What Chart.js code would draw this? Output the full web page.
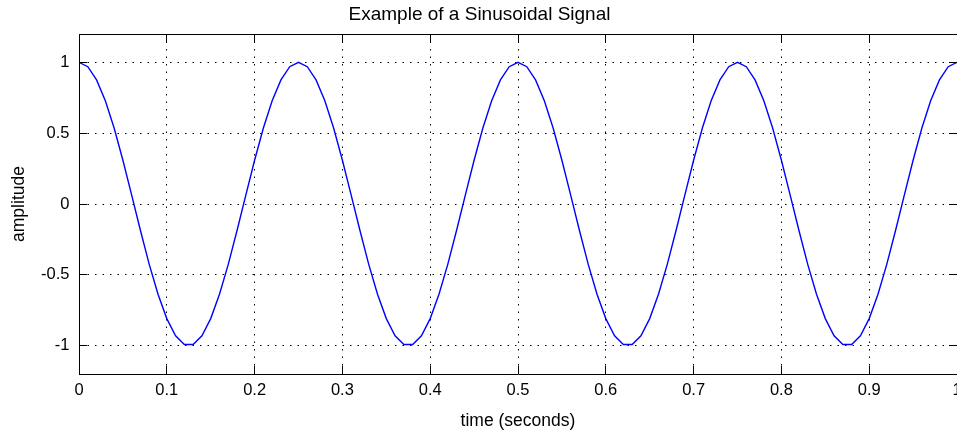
<!DOCTYPE html>
<html>
<head>
<meta charset="utf-8">
<script src="https://cdn.jsdelivr.net/npm/chart.js@4"></script>
<style>
  html, body { margin: 0; padding: 0; background: #fff; }
  #chart { display: block; }
</style>
</head>
<body>
<canvas id="chart" width="957" height="434"></canvas>
<script>
/*************************************************
 * DATA
 *************************************************/
const TITLE = "Example of a Sinusoidal Signal";
const X_LABEL = "time (seconds)";
const Y_LABEL = "amplitude";

// sample times (s)
const timeValues = [
  0.00, 0.01, 0.02, 0.03, 0.04, 0.05, 0.06, 0.07, 0.08, 0.09,
  0.10, 0.11, 0.12, 0.13, 0.14, 0.15, 0.16, 0.17, 0.18, 0.19,
  0.20, 0.21, 0.22, 0.23, 0.24, 0.25, 0.26, 0.27, 0.28, 0.29,
  0.30, 0.31, 0.32, 0.33, 0.34, 0.35, 0.36, 0.37, 0.38, 0.39,
  0.40, 0.41, 0.42, 0.43, 0.44, 0.45, 0.46, 0.47, 0.48, 0.49,
  0.50, 0.51, 0.52, 0.53, 0.54, 0.55, 0.56, 0.57, 0.58, 0.59,
  0.60, 0.61, 0.62, 0.63, 0.64, 0.65, 0.66, 0.67, 0.68, 0.69,
  0.70, 0.71, 0.72, 0.73, 0.74, 0.75, 0.76, 0.77, 0.78, 0.79,
  0.80, 0.81, 0.82, 0.83, 0.84, 0.85, 0.86, 0.87, 0.88, 0.89,
  0.90, 0.91, 0.92, 0.93, 0.94, 0.95, 0.96, 0.97, 0.98, 0.99,
  1.00
];

// amplitude
const amplitudeValues = [
  1.000, 0.969, 0.876, 0.729, 0.536, 0.309, 0.063, -0.187, -0.426, -0.637,
  -0.809, -0.930, -0.992, -0.992, -0.930, -0.809, -0.637, -0.426, -0.187, 0.063,
  0.309, 0.536, 0.729, 0.876, 0.969,
  1.000, 0.969, 0.876, 0.729, 0.536, 0.309, 0.063, -0.187, -0.426, -0.637,
  -0.809, -0.930, -0.992, -0.992, -0.930, -0.809, -0.637, -0.426, -0.187, 0.063,
  0.309, 0.536, 0.729, 0.876, 0.969,
  1.000, 0.969, 0.876, 0.729, 0.536, 0.309, 0.063, -0.187, -0.426, -0.637,
  -0.809, -0.930, -0.992, -0.992, -0.930, -0.809, -0.637, -0.426, -0.187, 0.063,
  0.309, 0.536, 0.729, 0.876, 0.969,
  1.000, 0.969, 0.876, 0.729, 0.536, 0.309, 0.063, -0.187, -0.426, -0.637,
  -0.809, -0.930, -0.992, -0.992, -0.930, -0.809, -0.637, -0.426, -0.187, 0.063,
  0.309, 0.536, 0.729, 0.876, 0.969,
  1.000
];

const xTicks = [0, 0.1, 0.2, 0.3, 0.4, 0.5, 0.6, 0.7, 0.8, 0.9, 1];
const xTickLabels = ["0", "0.1", "0.2", "0.3", "0.4", "0.5", "0.6", "0.7", "0.8", "0.9", "1"];
const yTicks = [-1, -0.5, 0, 0.5, 1];
const yTickLabels = ["-1", "-0.5", "0", "0.5", "1"];

/*************************************************
 * STYLE
 *************************************************/
const FONT = "'Liberation Sans', Arial, Helvetica, sans-serif";
const INK = "#000";
const TICK_LEN = 8;

/*************************************************
 * PLUGIN: box outline + inward ticks on all four sides
 *************************************************/
const boxTicks = {
  id: "boxTicks",
  afterDraw(chart) {
    const { ctx, chartArea: a, scales: { x, y } } = chart;
    const crisp = v => Math.round(v - 0.5) + 0.5;
    ctx.save();
    ctx.strokeStyle = INK;
    ctx.lineWidth = 1;
    ctx.setLineDash([]);
    ctx.beginPath();
    ctx.moveTo(a.left, crisp(a.top));
    ctx.lineTo(a.right, crisp(a.top));
    x.ticks.forEach(t => {
      const px = crisp(x.getPixelForValue(t.value));
      ctx.moveTo(px, a.top);
      ctx.lineTo(px, a.top + TICK_LEN);
      ctx.moveTo(px, a.bottom);
      ctx.lineTo(px, a.bottom - TICK_LEN);
    });
    y.ticks.forEach(t => {
      const py = crisp(y.getPixelForValue(t.value));
      ctx.moveTo(a.left, py);
      ctx.lineTo(a.left + TICK_LEN, py);
      ctx.moveTo(a.right, py);
      ctx.lineTo(a.right - TICK_LEN, py);
    });
    ctx.stroke();
    ctx.restore();
  }
};

/*************************************************
 * CHART
 *************************************************/
const points = timeValues.map((t, i) => ({ x: t, y: amplitudeValues[i] }));

new Chart(document.getElementById("chart"), {
  type: "line",
  data: {
    datasets: [{
      data: points,
      borderColor: "#0000ff",
      borderWidth: 1.4,
      pointRadius: 0,
      tension: 0,
      fill: false
    }]
  },
  options: {
    responsive: false,
    animation: false,
    layout: { padding: { left: 0, right: -2, top: 0, bottom: 0 } },
    plugins: {
      legend: { display: false },
      tooltip: { enabled: false },
      title: {
        display: true,
        text: TITLE,
        color: INK,
        font: { family: FONT, size: 19, weight: "normal", lineHeight: 1.2 },
        padding: { top: 3, bottom: 8.2 }
      }
    },
    scales: {
      x: {
        type: "linear",
        min: 0,
        max: 1,
        afterBuildTicks: s => { s.ticks = xTicks.map(v => ({ value: v })); },
        afterFit: s => { s.height = 60; s.paddingLeft = 0; s.paddingRight = 0; },
        ticks: {
          color: INK,
          font: { family: FONT, size: 16.5 },
          padding: 6.5,
          maxRotation: 0,
          autoSkip: false,
          callback: (v, i) => xTickLabels[i]
        },
        grid: { color: INK, lineWidth: 1, drawTicks: false },
        border: { display: true, color: INK, width: 1, dash: [1.5, 6] },
        title: {
          display: true,
          text: X_LABEL,
          color: INK,
          font: { family: FONT, size: 17.5, lineHeight: 1.2 },
          padding: { top: 0, bottom: 2 }
        }
      },
      y: {
        type: "linear",
        min: -1.2,
        max: 1.2,
        afterBuildTicks: s => { s.ticks = yTicks.map(v => ({ value: v })); },
        afterFit: s => { s.width = 79; s.paddingTop = 0; s.paddingBottom = 0; },
        ticks: {
          color: INK,
          font: { family: FONT, size: 16.5 },
          padding: 9.5,
          autoSkip: false,
          callback: (v, i) => yTickLabels[i]
        },
        grid: { color: INK, lineWidth: 1, drawTicks: false },
        border: { display: true, color: INK, width: 1, dash: [1.5, 6] },
        title: {
          display: true,
          text: Y_LABEL,
          color: INK,
          font: { family: FONT, size: 17.5, lineHeight: 1.2 },
          padding: { top: 8.5, bottom: 0 }
        }
      }
    }
  },
  plugins: [boxTicks]
});
</script>
</body>
</html>
